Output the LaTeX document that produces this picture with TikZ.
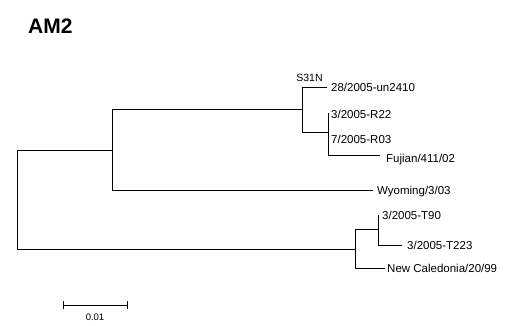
\documentclass[tikz,border=0pt]{standalone}
\usepackage{fontspec}
\setmainfont{Liberation Sans}
\begin{document}
\begin{tikzpicture}[x=1pt,y=-1pt,
  br/.style={line width=0.8pt, line cap=rect},
  leaf/.style={anchor=base west, inner sep=0pt, font=\fontsize{11.5}{13}\selectfont},
]
\useasboundingbox (0,0) rectangle (506,325);
% title
\node[anchor=base west, inner sep=0pt, font=\fontsize{21}{24}\bfseries\selectfont] (title) at (28,33) {AM2};
% internal nodes
\coordinate (root) at (17,199.5);
\coordinate (n1) at (112,150);
\coordinate (n2) at (302,109);
\coordinate (n3) at (328,132);
\coordinate (n4) at (355,249);
\coordinate (n5) at (378,229);
% leaf ends
\coordinate (e1) at (327,87);
\coordinate (e2) at (328,113);
\coordinate (e4) at (380,155);
\coordinate (e5) at (373,190);
\coordinate (e6) at (378,215);
\coordinate (e7) at (402,245);
\coordinate (e8) at (385,268);
% labels
\node[leaf] (l1) at (331,91.5) {28/2005-un2410};
\node[leaf] (l2) at (331,118.5) {3/2005-R22};
\node[leaf] (l3) at (331,143.5) {7/2005-R03};
\node[leaf] (l4) at (386,162.5) {Fujian/411/02};
\node[leaf] (l5) at (377,194.5) {Wyoming/3/03};
\node[leaf] (l6) at (382,219.5) {3/2005-T90};
\node[leaf] (l7) at (407,249.5) {3/2005-T223};
\node[leaf] (l8) at (387,272.5) {New Caledonia/20/99};
\node[anchor=center, inner sep=0pt, font=\fontsize{10.5}{12}\selectfont] (s31n) at (309.5,78) {S31N};
% branches
\draw[br] (root) |- (n1);
\draw[br] (root) |- (n4);
\draw[br] (n1) |- (n2);
\draw[br] (n1) |- (e5);
\draw[br] (n2) |- (e1);
\draw[br] (n2) |- (n3);
\draw[br] (n3) |- (e2);
\draw[br] (n3) |- (e4);
\draw[br] (n4) |- (n5);
\draw[br] (n4) |- (e8);
\draw[br] (n5) |- (e6);
\draw[br] (n5) |- (e7);
% scale bar
\coordinate (sb1) at (63,305);
\coordinate (sb2) at (127,305);
\draw[br] (sb1) -- (sb2);
\draw[br] ([yshift=-4pt]sb1) -- ([yshift=4pt]sb1);
\draw[br] ([yshift=-4pt]sb2) -- ([yshift=4pt]sb2);
\node[anchor=center, inner sep=0pt, font=\fontsize{9.5}{11}\selectfont] (sblab) at (95,317) {0.01};
\end{tikzpicture}
\end{document}
